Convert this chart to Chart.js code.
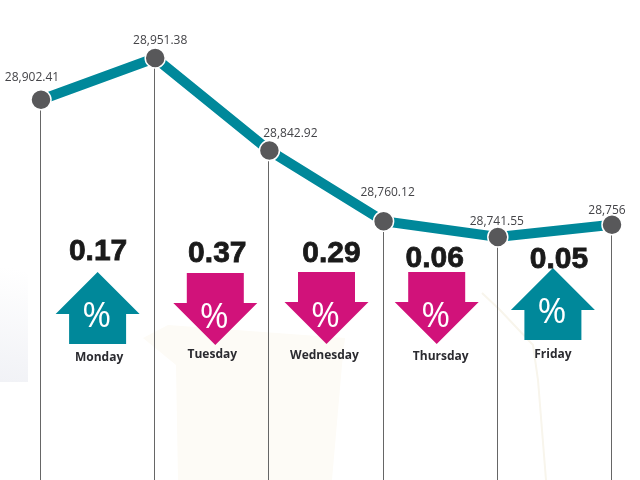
<!DOCTYPE html>
<html>
<head>
<meta charset="utf-8">
<title>Sensex week</title>
<script src="https://cdn.jsdelivr.net/npm/chart.js@4"></script>
<style>
  html, body { margin: 0; padding: 0; background: #fff; }
  #box { position: relative; width: 640px; height: 480px; overflow: hidden; }
</style>
</head>
<body>
<div id="box"><canvas id="weekChart" width="640" height="480"></canvas></div>
<script>
const days = ['Monday', 'Tuesday', 'Wednesday', 'Thursday', 'Friday', ''];
const closes = [28902.41, 28951.38, 28842.92, 28760.12, 28741.55, 28756];
const closeLabels = ['28,902.41', '28,951.38', '28,842.92', '28,760.12', '28,741.55', '28,756'];
const changes = [0.17, 0.37, 0.29, 0.06, 0.05];
const directions = ['up', 'down', 'down', 'down', 'up'];

const TEAL = '#00889a';
const PINK = '#d1127a';
const DOT = '#58585a';

// faint photo left behind the page in the original
const backdrop = {
    id: 'backdrop',
    beforeDraw(chart) {
        let ctx = chart.ctx;
        ctx.save();
        let grad = ctx.createLinearGradient(0, 382, 22, 270);
        grad.addColorStop(0, '#f1f2f6');
        grad.addColorStop(1, '#ffffff');
        ctx.fillStyle = grad;
        ctx.fillRect(0, 200, 28, 182);

        ctx.fillStyle = '#fdfbf6';
        ctx.beginPath();
        ctx.moveTo(143, 338);
        ctx.lineTo(168, 325);
        ctx.lineTo(345, 338);
        ctx.lineTo(342, 365);
        ctx.lineTo(332, 480);
        ctx.lineTo(178, 480);
        ctx.lineTo(176, 365);
        ctx.closePath();
        ctx.fill();

        ctx.strokeStyle = '#f8f5ec';
        ctx.lineWidth = 2;
        ctx.beginPath();
        ctx.moveTo(482, 293);
        ctx.lineTo(500, 310);
        ctx.lineTo(533, 345);
        ctx.lineTo(538, 380);
        ctx.lineTo(546, 480);
        ctx.stroke();
        ctx.restore();
    }
};

// thin lines dropping from each point to the bottom edge
const dropLines = {
    id: 'dropLines',
    beforeDatasetsDraw(chart) {
        let ctx = chart.ctx;
        let pts = chart.getDatasetMeta(0).data;
        ctx.save();
        ctx.strokeStyle = '#666666';
        ctx.lineWidth = 1;
        pts.forEach(pt => {
            ctx.beginPath();
            ctx.moveTo(Math.round(pt.x) - 0.5, pt.y);
            ctx.lineTo(Math.round(pt.x) - 0.5, chart.height);
            ctx.stroke();
        });
        ctx.restore();
    }
};

function drawArrow(ctx, cx, top, dir) {
    // 84 wide, 72 tall house shape, flipped for a fall
    let s = dir === 'up' ? 1 : -1;
    let y0 = dir === 'up' ? top : top + 72;
    ctx.beginPath();
    ctx.moveTo(cx, y0);
    ctx.lineTo(cx + 42, y0 + s * 42);
    ctx.lineTo(cx + 28.5, y0 + s * 42);
    ctx.lineTo(cx + 28.5, y0 + s * 72);
    ctx.lineTo(cx - 28.5, y0 + s * 72);
    ctx.lineTo(cx - 28.5, y0 + s * 42);
    ctx.lineTo(cx - 42, y0 + s * 42);
    ctx.closePath();
    ctx.fill();
}

const annotations = {
    id: 'annotations',
    afterDatasetsDraw(chart) {
        let ctx = chart.ctx;
        let pts = chart.getDatasetMeta(0).data;
        // hand placement of the labels, the original is not set on a grid
        let labelDx = [-9, 5, 21, 4, -1, -5];
        let labelRise = [19, 14, 14, 25, 12, 11];
        let arrowDx = [-0.5, 3, 0, -4, -2];
        let arrowTop = [272, 273, 272, 272, 268];
        let numDx = [0, 5, 5, -6, 4];
        let numY = [260, 262, 262, 267, 268];
        let dayDx = [1, 0, -2, 0, -2];
        let dayY = [361, 358, 359, 360, 358];

        ctx.save();
        ctx.textAlign = 'center';
        ctx.textBaseline = 'alphabetic';

        ctx.fillStyle = '#444448';
        ctx.font = '12px "Open Sans"';
        closeLabels.forEach((txt, i) => {
            ctx.fillText(txt, pts[i].x + labelDx[i], pts[i].y - labelRise[i]);
        });

        changes.forEach((chg, i) => {
            let cx = (pts[i].x + pts[i + 1].x) / 2;
            let arrowX = cx + arrowDx[i];
            ctx.fillStyle = directions[i] === 'up' ? TEAL : PINK;
            drawArrow(ctx, arrowX, arrowTop[i], directions[i]);

            ctx.fillStyle = '#ffffff';
            ctx.font = '35px "Open Sans"';
            ctx.fillText('%', arrowX - 1, arrowTop[i] + 55);

            ctx.fillStyle = '#1a1a1a';
            ctx.strokeStyle = '#1a1a1a';
            ctx.lineWidth = 0.8;
            ctx.font = 'bold 30px "Liberation Sans"';
            ctx.fillText(chg.toFixed(2), cx + numDx[i], numY[i]);
            ctx.strokeText(chg.toFixed(2), cx + numDx[i], numY[i]);

            ctx.fillStyle = '#2b2b30';
            ctx.font = 'bold 12px "Open Sans"';
            ctx.fillText(days[i], cx + dayDx[i], dayY[i]);
        });
        ctx.restore();
    }
};

new Chart(document.getElementById('weekChart').getContext('2d'), {
    type: 'line',
    data: {
        labels: days,
        datasets: [{
            data: closes,
            borderColor: TEAL,
            borderWidth: 10,
            tension: 0,
            pointRadius: 10,
            pointBackgroundColor: DOT,
            pointBorderColor: '#ffffff',
            pointBorderWidth: 1.5
        }]
    },
    options: {
        responsive: false,
        animation: false,
        layout: { autoPadding: false, padding: { left: 41, right: 28, top: 0, bottom: 0 } },
        plugins: { legend: { display: false }, tooltip: { enabled: false } },
        scales: {
            x: { display: false },
            y: { display: false, min: 28456.7, max: 29019.4 }
        }
    },
    plugins: [backdrop, dropLines, annotations]
});
</script>
</body>
</html>
